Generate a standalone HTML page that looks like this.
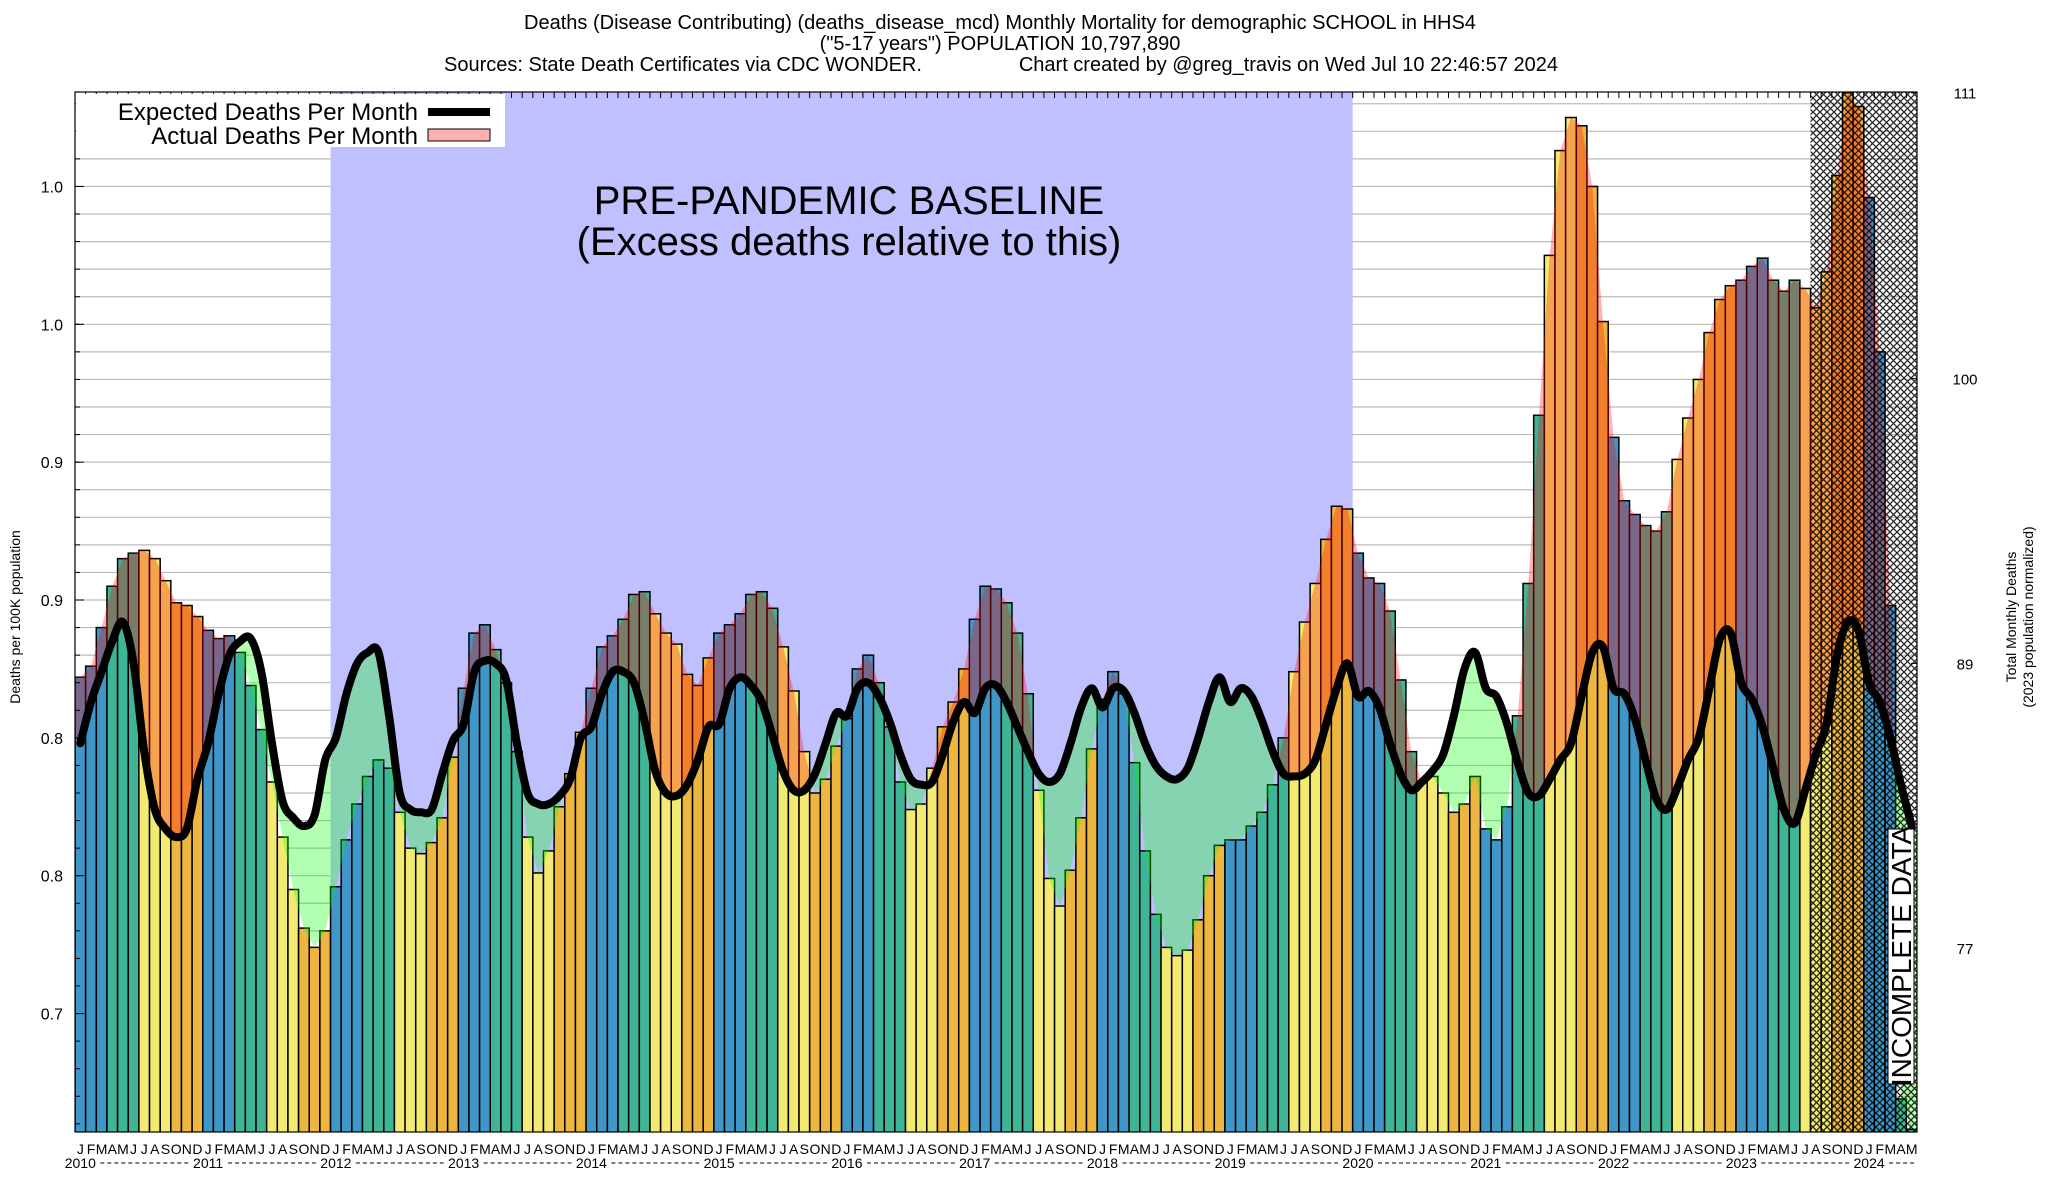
<!DOCTYPE html>
<html><head><meta charset="utf-8">
<style>
html,body{margin:0;padding:0;background:#fff;}
svg{display:block;font-family:"Liberation Sans",Arial,sans-serif;}
</style></head>
<body>
<svg id="chart" width="2048" height="1200" viewBox="0 0 2048 1200">
<defs>
<pattern id="hatch" width="7" height="7" patternUnits="userSpaceOnUse">
<path d="M0,0 L7,7 M7,0 L0,7" stroke="#000" stroke-width="1.3" fill="none"/>
</pattern>
<clipPath id="plotClip"><rect x="75" y="92" width="1842" height="1040"/></clipPath>
</defs>
<g>
<text x="1000" y="29" font-size="20" text-anchor="middle">Deaths (Disease Contributing) (deaths_disease_mcd) Monthly Mortality for demographic SCHOOL in HHS4</text>
<text x="1000" y="50" font-size="20" text-anchor="middle">("5-17 years") POPULATION 10,797,890</text>
<text x="444" y="71" font-size="20">Sources: State Death Certificates via CDC WONDER.</text>
<text x="1558" y="71" font-size="20" text-anchor="end">Chart created by @greg_travis on Wed Jul 10 22:46:57 2024</text>
</g>
<g id="grid"></g>
<rect id="band" fill="#c0c0ff"/>
<g id="bars" clip-path="url(#plotClip)"></g>
<g id="fills" clip-path="url(#plotClip)"></g>
<g id="line" clip-path="url(#plotClip)"></g>
<rect id="hatchRect" fill="url(#hatch)" opacity="0.85"/>
<g id="axes"></g>
<text x="849" y="214" font-size="40" text-anchor="middle">PRE-PANDEMIC BASELINE</text>
<text x="849" y="255" font-size="40" text-anchor="middle">(Excess deaths relative to this)</text>
<g>
<rect x="76" y="94" width="429" height="53" fill="#fff"/>
<text x="418" y="120" font-size="24" text-anchor="end">Expected Deaths Per Month</text>
<rect x="428" y="108" width="62" height="8" fill="#000"/>
<text x="418" y="144" font-size="24" text-anchor="end">Actual Deaths Per Month</text>
<rect x="428" y="129" width="62" height="12" fill="#ffb0b0" stroke="#000" stroke-width="1"/>
</g>
<g>
<rect x="1888" y="829" width="26" height="255" fill="#fff" stroke="#000" stroke-width="1"/>
<text x="0" y="0" font-size="28" text-anchor="middle" transform="translate(1911,956) rotate(-90)">INCOMPLETE DATA</text>
</g>
<text x="0" y="0" font-size="14" text-anchor="middle" transform="translate(20,617) rotate(-90)">Deaths per 100K population</text>
<text x="0" y="0" font-size="14" text-anchor="middle" transform="translate(2016,617) rotate(-90)">Total Monthly Deaths</text>
<text x="0" y="0" font-size="14" text-anchor="middle" transform="translate(2033,617) rotate(-90)">(2023 population normalized)</text>
<rect x="75" y="92" width="1842" height="1040" fill="none" stroke="#000" stroke-width="1.2"/>
</svg>
<script>
const monthLetters = ["J","F","M","A","M","J","J","A","S","O","N","D"];
const years = ["2010","2011","2012","2013","2014","2015","2016","2017","2018","2019","2020","2021","2022","2023","2024"];
const actualValues = [
0.872,0.876,0.890,0.905,0.915,0.917,0.918,0.915,0.907,0.899,0.898,0.894,
0.889,0.886,0.887,0.881,0.869,0.853,0.834,0.814,0.795,0.781,0.774,0.780,
0.796,0.813,0.826,0.836,0.842,0.839,0.823,0.810,0.808,0.812,0.821,0.843,
0.868,0.888,0.891,0.882,0.870,0.845,0.814,0.801,0.809,0.825,0.837,0.852,
0.868,0.883,0.887,0.893,0.902,0.903,0.895,0.888,0.884,0.873,0.869,0.879,
0.888,0.891,0.895,0.902,0.903,0.897,0.883,0.867,0.845,0.830,0.835,0.847,
0.857,0.875,0.880,0.870,0.854,0.834,0.824,0.826,0.839,0.854,0.863,0.875,
0.893,0.905,0.904,0.899,0.888,0.866,0.831,0.799,0.789,0.802,0.821,0.846,
0.864,0.874,0.866,0.841,0.809,0.786,0.774,0.771,0.773,0.784,0.800,0.811,
0.813,0.813,0.818,0.823,0.833,0.850,0.874,0.892,0.906,0.922,0.934,0.933,
0.917,0.908,0.906,0.896,0.871,0.845,0.834,0.836,0.830,0.823,0.826,0.836,
0.817,0.813,0.825,0.858,0.906,0.967,1.025,1.063,1.075,1.072,1.050,1.001,
0.959,0.936,0.931,0.927,0.925,0.932,0.951,0.966,0.980,0.997,1.009,1.014,
1.016,1.021,1.024,1.016,1.012,1.016,1.013,1.006,1.019,1.054,1.084,1.079,
1.046,0.990,0.898,0.719,0.708];
const expectedValues = [
0.848,0.863,0.874,0.885,0.892,0.877,0.845,0.824,0.817,0.814,0.817,0.835,
0.848,0.866,0.880,0.885,0.886,0.874,0.848,0.827,0.821,0.818,0.822,0.842,
0.850,0.866,0.877,0.881,0.881,0.858,0.830,0.824,0.823,0.824,0.837,0.849,
0.855,0.874,0.878,0.877,0.871,0.848,0.830,0.826,0.826,0.829,0.835,0.850,
0.854,0.866,0.874,0.874,0.870,0.856,0.838,0.830,0.829,0.833,0.842,0.854,
0.855,0.868,0.872,0.869,0.863,0.851,0.838,0.831,0.831,0.837,0.848,0.859,
0.858,0.868,0.870,0.865,0.856,0.844,0.835,0.833,0.834,0.844,0.856,0.863,
0.859,0.868,0.869,0.863,0.854,0.845,0.837,0.834,0.837,0.848,0.861,0.868,
0.861,0.868,0.867,0.859,0.848,0.840,0.836,0.835,0.839,0.850,0.863,0.872,
0.863,0.868,0.865,0.856,0.845,0.837,0.836,0.837,0.842,0.855,0.868,0.877,
0.865,0.867,0.861,0.848,0.837,0.831,0.834,0.838,0.844,0.858,0.875,0.881,
0.868,0.865,0.855,0.841,0.830,0.829,0.835,0.842,0.848,0.865,0.881,0.883,
0.868,0.866,0.857,0.842,0.828,0.824,0.832,0.842,0.850,0.868,0.886,0.888,
0.870,0.864,0.854,0.839,0.824,0.819,0.831,0.844,0.855,0.880,0.892,0.889,
0.870,0.863,0.850,0.833,0.818];
const yTickValues = [1.05,1.0,0.95,0.9,0.85,0.8,0.75];
const yTickLabels = ["1.0","1.0","0.9","0.9","0.8","0.8","0.7"];
const rightTickValues = [1.084,0.9804,0.877,0.7737];
const rightTickLabels = ["111","100","89","77"];
const baselineStartMonth = 24, baselineEndMonth = 120, incompleteStartMonth = 163;

const NS = "http://www.w3.org/2000/svg";
const L = 75, R = 1917, T = 92, B = 1132;
const N = actualValues.length;
const bw = (R - L) / N;
function xLeft(i){ return L + bw * i; }
function xC(i){ return L + bw * (i + 0.5); }
function yS(v){ return 324.3 + (1 - v) * 2757; }
function mk(tag, attrs, parent){ const e = document.createElementNS(NS, tag); for (const k in attrs) e.setAttribute(k, attrs[k]); parent.appendChild(e); return e; }
const seasonColors = ["#4196c8","#40b496","#f2ea72","#ecb640"];

const grid = document.getElementById("grid");
for (let k = 0; k < 40; k++) {
  const v = 1.08 - k * 0.01; const y = yS(v);
  if (y < T + 2 || y > B) continue;
  const g = mk("line", {x1: L, x2: R, y1: y, y2: y, stroke: "#bbb", "stroke-width": 1.2}, grid);
  
  
}
const band = document.getElementById("band");
band.setAttribute("x", xLeft(baselineStartMonth)); band.setAttribute("y", T);
band.setAttribute("width", xLeft(baselineEndMonth) - xLeft(baselineStartMonth)); band.setAttribute("height", B - T);
const bars = document.getElementById("bars");
for (let i = 0; i < N; i++) {
  const y = yS(actualValues[i]);
  const r = mk("rect", {x: xLeft(i), y: y, width: bw, height: B - y + 2, fill: seasonColors[Math.floor((i % 12) / 3)], stroke: "#000", "stroke-width": 1.5}, bars);
  
  
}
const fills = document.getElementById("fills");
function linePts(arr){ return arr.map((v, i) => [xC(i), yS(v)]); }
const aP = linePts(actualValues), eP = linePts(expectedValues);
function ptsStr(p){ return p.map(q => q[0].toFixed(1) + "," + q[1].toFixed(1)).join(" L"); }
const defs = document.querySelector("defs");
const cpAboveE = mk("clipPath", {id: "aboveE"}, defs);
mk("path", {d: "M" + L + "," + T + " L" + L + "," + eP[0][1] + " L" + ptsStr(eP) + " L" + R + "," + eP[N-1][1] + " L" + R + "," + T + " Z"}, cpAboveE);
const cpAboveA = mk("clipPath", {id: "aboveA"}, defs);
mk("path", {d: "M" + L + "," + T + " L" + L + "," + aP[0][1] + " L" + ptsStr(aP) + " L" + R + "," + aP[N-1][1] + " L" + R + "," + T + " Z"}, cpAboveA);
const ex = mk("path", {d: "M" + L + "," + B + " L" + L + "," + aP[0][1] + " L" + ptsStr(aP) + " L" + R + "," + aP[N-1][1] + " L" + R + "," + B + " Z", fill: "rgba(255,0,0,0.3)", "clip-path": "url(#aboveE)"}, fills);


const df = mk("path", {d: "M" + L + "," + B + " L" + L + "," + eP[0][1] + " L" + ptsStr(eP) + " L" + R + "," + eP[N-1][1] + " L" + R + "," + B + " Z", fill: "rgba(0,255,0,0.3)", "clip-path": "url(#aboveA)"}, fills);


let d = "M" + eP[0][0] + "," + eP[0][1];
for (let i = 0; i < N - 1; i++) {
  const p0 = eP[Math.max(i-1,0)], p1 = eP[i], p2 = eP[i+1], p3 = eP[Math.min(i+2,N-1)];
  const c1 = [p1[0] + (p2[0]-p0[0])/6, p1[1] + (p2[1]-p0[1])/6];
  const c2 = [p2[0] - (p3[0]-p1[0])/6, p2[1] - (p3[1]-p1[1])/6];
  d += " C" + c1[0].toFixed(1) + "," + c1[1].toFixed(1) + " " + c2[0].toFixed(1) + "," + c2[1].toFixed(1) + " " + p2[0].toFixed(1) + "," + p2[1].toFixed(1);
}
const el = mk("path", {d: d, fill: "none", stroke: "#000", "stroke-width": 8, "stroke-linejoin": "round", "stroke-linecap": "round"}, document.getElementById("line"));


const hr = document.getElementById("hatchRect");
hr.setAttribute("x", xLeft(incompleteStartMonth)); hr.setAttribute("y", T);
hr.setAttribute("width", R - xLeft(incompleteStartMonth)); hr.setAttribute("height", B - T);
const axes = document.getElementById("axes");
for (let k = 0; k < 40; k++) {
  const v = 1.08 - k * 0.01; const y = yS(v);
  if (y < T || y > B) continue;
  mk("line", {x1: L, x2: L + 5, y1: y, y2: y, stroke: "#000", "stroke-width": 1}, axes);
}
yTickValues.forEach((v, k) => {
  const y = yS(v);
  mk("line", {x1: L, x2: L + 9, y1: y, y2: y, stroke: "#000", "stroke-width": 1}, axes);
  const t = mk("text", {x: L - 12, y: y + 6, "font-size": 16, "text-anchor": "end"}, axes);
  t.textContent = yTickLabels[k];
  
  
});
rightTickValues.forEach((v, k) => {
  const y = yS(v);
  mk("line", {x1: R - 6, x2: R, y1: y, y2: y, stroke: "#000", "stroke-width": 1}, axes);
  const t = mk("text", {x: 1965, y: y + 6, "font-size": 15, "text-anchor": "middle"}, axes);
  t.textContent = rightTickLabels[k];
  
  
});
for (let i = 0; i < N; i++) {
  mk("line", {x1: xLeft(i), x2: xLeft(i), y1: T, y2: T + 6, stroke: "#000", "stroke-width": 1}, axes);
  const t = mk("text", {x: xC(i), y: 1154, "font-size": 14, "text-anchor": "middle"}, axes);
  t.textContent = monthLetters[i % 12];
  
  
}
years.forEach((yr, k) => {
  const cx = xC(k * 12);
  const t = mk("text", {x: cx, y: 1168, "font-size": 14, "text-anchor": "middle"}, axes);
  t.textContent = yr;
  
  
  const x1 = cx + 20, x2 = (k < years.length - 1) ? xC((k + 1) * 12) - 20 : R;
  mk("line", {x1: x1, x2: x2, y1: 1163, y2: 1163, stroke: "#000", "stroke-width": 1, "stroke-dasharray": "4,3"}, axes);
});
</script>
</body></html>
